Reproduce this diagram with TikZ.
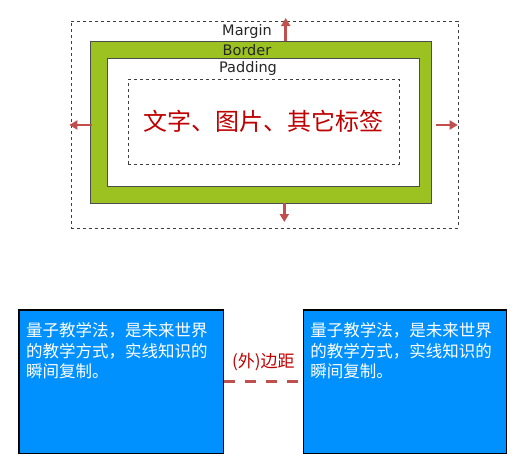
\documentclass[tikz,border=0pt]{standalone}
\usepackage{fontspec}
\setmainfont{DejaVu Sans}
\newfontfamily\cjk{Noto Sans CJK SC}
\usetikzlibrary{arrows.meta, positioning, calc}
\definecolor{cGreen}{RGB}{155,194,32}
\definecolor{cArrow}{RGB}{192,80,77}
\definecolor{cRed}{RGB}{192,0,0}
\definecolor{cBlue}{RGB}{0,145,255}
\tikzset{
	dashbox/.style ={rectangle, draw=black!75, dash pattern=on 3pt off 3pt, inner sep=0pt},
	borderbox/.style={rectangle, draw=black!70, fill=cGreen, inner sep=0pt},
	padbox/.style  ={rectangle, draw=black!70, fill=white, inner sep=0pt},
	lbl/.style     ={text=black!85, font=\fontsize{14.5}{16}\selectfont, inner sep=0pt},
	pull/.style    ={-{Triangle[length=8pt, width=9pt]}, line width=2.8pt, cArrow},
	% bottom part
	blubox/.style  ={rectangle, draw=black, line width=1.3pt, fill=cBlue, inner sep=0pt},
	blutext/.style ={text=white, align=left, inner sep=0pt, font=\cjk\fontsize{16.5}{20.5}\selectfont},
	gapline/.style ={cArrow, line width=3pt, dash pattern=on 11pt off 10pt},
}
\begin{document}
\begin{tikzpicture}[x=1pt, y=-1pt]
	\useasboundingbox (0,0) rectangle (532,474);
	% box model
	\node[dashbox, minimum width=387pt, minimum height=207.6pt] (margin) at (264.2,124.5) {};
	\node[borderbox, minimum width=341pt, minimum height=161.7pt] (border) at (260.5,121.85) {};
	\node[padbox, minimum width=311.7pt, minimum height=127.4pt] (padding) at (263.15,122) {};
	\node[dashbox, minimum width=270.7pt, minimum height=85pt, text=cRed,
		font=\cjk\fontsize{24}{28}\selectfont] (content) at (263.65,121.5) {文字、图片、其它标签};
	\node[lbl] (mlbl) at (247,31) {Margin};
	\node[lbl] (blbl) at (247,50) {Border};
	\node[lbl] (plbl) at (248,68) {Padding};
	\coordinate (tUp) at (285.7,18);
	\coordinate (tDown) at (284.3,222);
	\coordinate (tLeft) at (69.3,125);
	\coordinate (tRight) at (457.7,125);
	\draw[pull] (border.north -| tUp) -- (tUp);
	\draw[pull] (border.south -| tDown) -- (tDown);
	\draw[pull] ([xshift=2.5pt]border.west |- tLeft) -- (tLeft);
	\draw[pull] ([xshift=5pt]border.east |- tRight) -- (tRight);
	% two blocks and the gap between them
	\node[blubox, minimum width=204.3pt, minimum height=143.3pt] (lbox) at (121.2,381.7) {};
	\node[blubox, minimum width=203.4pt, minimum height=143.3pt] (rbox) at (405,381.7) {};
	\node[blutext, anchor=north west] (ltext) at ([xshift=7.5pt,yshift=-13pt]lbox.north west)
		{量子教学法，是未来世界\\的教学方式，实线知识的\\瞬间复制。};
	\node[blutext, anchor=north west] (rtext) at ([xshift=7.5pt,yshift=-13pt]rbox.north west)
		{量子教学法，是未来世界\\的教学方式，实线知识的\\瞬间复制。};
	\draw[gapline] (lbox) -- node[above=9pt, inner sep=0pt, text=cRed,
		font=\cjk\fontsize{17}{20}\selectfont] (gap) {(外)边距} (rbox);
\end{tikzpicture}
\end{document}
